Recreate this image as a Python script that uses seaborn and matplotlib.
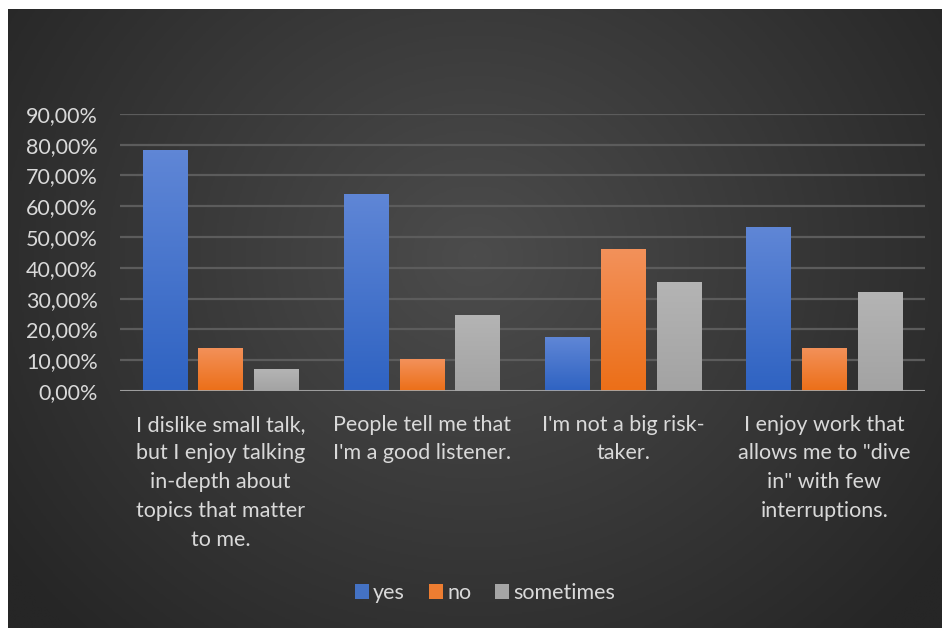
import numpy as np
import pandas as pd
import matplotlib
matplotlib.use("Agg")
import matplotlib.pyplot as plt
from matplotlib.ticker import FuncFormatter
from matplotlib.colors import LinearSegmentedColormap
import seaborn as sns

# Survey statements (wrapped as shown on the axis)
statements = [
    "I dislike small talk,\nbut I enjoy talking\nin-depth about\ntopics that matter\nto me.",
    "People tell me that\nI'm a good listener.",
    "I'm not a big risk-\ntaker.",
    "I enjoy work that\nallows me to \"dive\nin\" with few\ninterruptions.",
]
answers = ["yes", "no", "sometimes"]
yes_share = [0.782, 0.640, 0.174, 0.531]
no_share = [0.140, 0.103, 0.461, 0.141]
sometimes_share = [0.070, 0.248, 0.353, 0.320]
ticks = [0.0, 0.1, 0.2, 0.3, 0.4, 0.5, 0.6, 0.7, 0.8, 0.9]

df = pd.DataFrame({
    "statement": statements * 3,
    "answer": [a for a in answers for _ in statements],
    "share": yes_share + no_share + sometimes_share,
})

palette = {"yes": "#4472C4", "no": "#ED7D31", "sometimes": "#A5A5A5"}
grad_top = {"yes": "#5F86D6", "no": "#F3915A", "sometimes": "#B4B4B4"}
grad_bot = {"yes": "#2F63C2", "no": "#EC6F18", "sometimes": "#A3A3A3"}

sns.set_theme(style="dark")
plt.rcParams["font.family"] = ["Lato", "DejaVu Sans"]
text_color = "#D9D9D9"

fig = plt.figure(figsize=(9.42, 6.28), dpi=100, facecolor="white")

# Dark panel with a soft radial shade
bg = fig.add_axes([8 / 942, 0, 934 / 942, 619 / 628], zorder=0)
ny, nx = 400, 600
yy, xx = np.mgrid[0:1:ny * 1j, 0:1:nx * 1j]
r = np.sqrt(((xx - 0.5) / 0.62) ** 2 + ((yy - 0.40) / 0.85) ** 2)
r = np.clip(r, 0, 1)
shade = LinearSegmentedColormap.from_list("shade", ["#4C4C4C", "#393939", "#262626"])
bg.imshow(r, cmap=shade, aspect="auto", extent=[0, 1, 1, 0], interpolation="bilinear")
bg.set_axis_off()

ax = fig.add_axes([120 / 942, 237 / 628, 805 / 942, (391 - 113.8) / 628], zorder=1)
ax.set_facecolor("none")

sns.barplot(data=df, x="statement", y="share", hue="answer", hue_order=answers,
            order=statements, palette=palette, width=0.83, gap=0.2,
            saturation=1, errorbar=None, ax=ax, zorder=3, linewidth=0)

# Vertical gradient on each bar, clipped to its rectangle
for container, ans in zip(ax.containers, answers):
    cmap = LinearSegmentedColormap.from_list(ans, [grad_bot[ans], grad_top[ans]])
    for bar in container:
        x0, y0 = bar.get_x(), bar.get_y()
        w, h = bar.get_width(), bar.get_height()
        grad = np.linspace(0, 1, 64).reshape(-1, 1)
        im = ax.imshow(grad, cmap=cmap, aspect="auto", origin="lower",
                       extent=[x0, x0 + w, y0, y0 + h], zorder=3.5,
                       interpolation="bilinear")
        im.set_clip_path(bar)

ax.set_xlim(-0.5, len(statements) - 0.5)
ax.set_ylim(0, 0.9)
ax.set_yticks(ticks)
ax.yaxis.set_major_formatter(FuncFormatter(lambda v, p: f"{v * 100:.2f}%".replace(".", ",")))
ax.grid(axis="y", color="#5C5C5C", linewidth=1.6, zorder=1)
ax.grid(axis="x", visible=False)
for s in ax.spines.values():
    s.set_visible(False)
ax.axhline(0, color="#A6A6A6", linewidth=2, zorder=4)

ax.set_xlabel("")
ax.set_ylabel("")
ax.tick_params(axis="y", colors=text_color, labelsize=15.5, length=0, pad=16)
ax.tick_params(axis="x", colors=text_color, labelsize=15.5, length=0, pad=17)
for lab in ax.get_xticklabels():
    lab.set_linespacing(1.55)
    lab.set_horizontalalignment("center")
    lab.set_verticalalignment("top")
for lab in ax.get_yticklabels():
    lab.set_color(text_color)

handles, labels = ax.get_legend_handles_labels()
if ax.legend_:
    ax.legend_.remove()
fig.legend(handles, labels, loc="center", bbox_to_anchor=(485 / 942, 1 - 593 / 628),
           ncol=3, frameon=False, fontsize=15.5, handlelength=0.65, handleheight=0.65,
           handletextpad=0.2, columnspacing=1.1, labelcolor=text_color)

fig.savefig("out.png", dpi=100, facecolor="white")
